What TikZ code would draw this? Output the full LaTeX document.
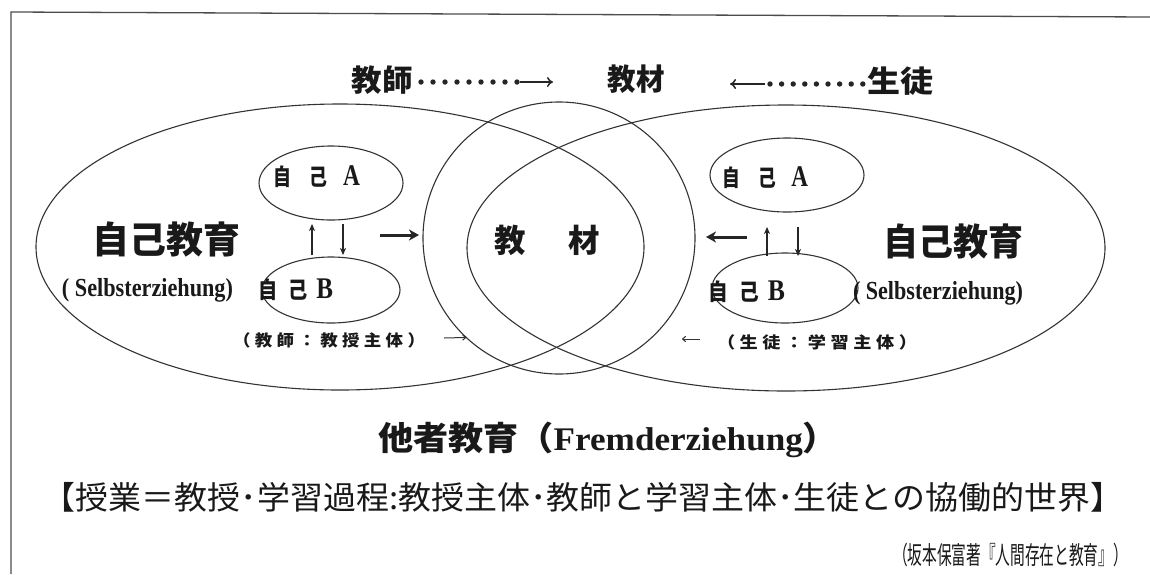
\documentclass[tikz,border=0pt]{standalone}
\usepackage{graphicx}
\usepackage{fontspec}
\setmainfont{Liberation Serif}
\newfontfamily\jp{Noto Sans CJK JP}
\usetikzlibrary{shapes.geometric,arrows.meta}
\newcommand\fitw[2]{\resizebox{#1}{\height}{#2}}
\newcommand\fs[1]{\fontsize{#1}{#1}\selectfont}
\tikzset{
  lbl/.style={inner sep=0pt, outer sep=0pt, anchor=center, text=black!90},
  ring/.style={draw=black!80, line width=1.1pt, inner sep=0pt, outer sep=0pt},
  oval/.style={ring, ellipse},
  frameline/.style={draw=black!70, line width=1.3pt},
  dotfill/.style={fill=black!85},
  toparrow/.style={line width=1.8pt, black!85, -{To[length=6pt,width=10pt,line width=1.5pt]}},
  bigarrow/.style={line width=3pt, black!85, -{Stealth[length=10pt,width=11pt,inset=3pt]}},
  thinarrow/.style={line width=1.1pt, black!85, -{Stealth[length=7pt,width=6pt,inset=2pt]}},
  smallarrow/.style={line width=1pt, black!80, -{To[length=4pt,width=6pt]}},
}
\begin{document}
\begin{tikzpicture}[x=1pt,y=-1pt]
\useasboundingbox (0,0) rectangle (1150,574);
\fill[white] (0,0) rectangle (1150,574);
% frame
\coordinate (f1) at (11,574);
\coordinate (f2) at (11,12);
\coordinate (f3) at (1150,17);
\draw[frameline] (f1) -- (f2) -- (f3);

% top line
\node[lbl, font=\fs{30}] (teacher) at (382,80) {\fitw{61pt}{\jp\bfseries 教師}};
\node[lbl, font=\fs{30}] (mat) at (636,79) {\fitw{57pt}{\jp\bfseries 教材}};
\node[lbl, font=\fs{30}] (student) at (900,81) {\fitw{66pt}{\jp\bfseries 生徒}};
\foreach \i in {0,...,8} \fill[dotfill] (421+\i*12,82) circle[radius=2.7pt];
\coordinate (ta1) at (520,82);
\coordinate (ta2) at (553,82);
\draw[toparrow] (ta1) -- (ta2);
\foreach \i in {0,...,8} \fill[dotfill] (770+\i*11.6,84) circle[radius=2.7pt];
\coordinate (sa1) at (765,84);
\coordinate (sa2) at (730,84);
\draw[toparrow] (sa1) -- (sa2);

% big shapes
\node[oval, minimum width=608pt, minimum height=286pt] (LE) at (340,247) {};
\node[oval, minimum width=638pt, minimum height=286pt] (RE) at (786,248) {};
\node[ring, circle, minimum size=272pt] (C) at (559,238) {};

% small ellipses
\node[oval, minimum width=144pt, minimum height=74pt] (LA) at (331,183) {};
\node[oval, minimum width=138pt, minimum height=66pt] (LB) at (331,290) {};
\node[oval, minimum width=154pt, minimum height=74pt] (RA) at (787,175) {};
\node[oval, minimum width=146pt, minimum height=70pt] (RB) at (785,288) {};

% texts in small ellipses
\node[lbl, font=\fs{23}] (laT) at (316.5,177) {\fitw{87pt}{\jp\bfseries 自\hspace{24pt}己\hspace{20pt}{\rmfamily\bfseries\fs{30}A}}};
\node[lbl, font=\fs{23}] (lbT) at (295.5,290) {\fitw{75pt}{\jp\bfseries 自\hspace{14pt}己\hspace{10pt}{\rmfamily\bfseries\fs{30}B}}};
\node[lbl, font=\fs{23}] (raT) at (765,178) {\fitw{86pt}{\jp\bfseries 自\hspace{24pt}己\hspace{20pt}{\rmfamily\bfseries\fs{30}A}}};
\node[lbl, font=\fs{23}] (rbT) at (746.5,292) {\fitw{77pt}{\jp\bfseries 自\hspace{14pt}己\hspace{10pt}{\rmfamily\bfseries\fs{30}B}}};

% self education
\node[lbl, font=\fs{37}] (lSelf) at (166,240) {\fitw{148pt}{\jp\bfseries 自己教育}};
\node[lbl, font=\fs{37}] (rSelf) at (953,242) {\fitw{140pt}{\jp\bfseries 自己教育}};
\node[lbl, font=\fs{26}] (lSelb) at (147.5,290) {\fitw{171pt}{\bfseries ( Selbsterziehung)}};
\node[lbl, font=\fs{26}] (rSelb) at (938,293) {\fitw{170pt}{\bfseries ( Selbsterziehung)}};

% subject labels
\node[lbl, font=\fs{16}] (tSubj) at (329,340) {\fitw{192pt}{\jp\bfseries （\hspace{4pt}教\hspace{4pt}師\hspace{4pt}：\hspace{4pt}教\hspace{4pt}授\hspace{4pt}主\hspace{4pt}体\hspace{4pt}）}};
\node[lbl, font=\fs{16}] (sSubj) at (817,342) {\fitw{200pt}{\jp\bfseries （\hspace{4pt}生\hspace{4pt}徒\hspace{4pt}：\hspace{4pt}学\hspace{4pt}習\hspace{4pt}主\hspace{4pt}体\hspace{4pt}）}};
\coordinate (tsa) at (444,338);
\draw[smallarrow] (tsa) -- (C.227);
\coordinate (ssa1) at (700,339);
\coordinate (ssa2) at (682,339);
\draw[smallarrow] (ssa1) -- (ssa2);

% centre
\node[lbl, font=\fs{32}] (cMat) at (547,240) {\fitw{105pt}{\jp\bfseries 教\hspace{43pt}材}};

% big arrows
\coordinate (ba1) at (380,235);
\coordinate (ba2) at (419,235);
\draw[bigarrow] (ba1) -- (ba2);
\coordinate (bb1) at (747,237);
\coordinate (bb2) at (706,237);
\draw[bigarrow] (bb1) -- (bb2);

% up/down arrows
\draw[thinarrow] ([xshift=-19pt,yshift=2pt]LB.north) -- ([xshift=-19pt,yshift=-4pt]LA.south);
\draw[thinarrow] ([xshift=12pt,yshift=-4pt]LA.south) -- ([xshift=12pt,yshift=2pt]LB.north);
\coordinate (ru1) at (767,256);
\coordinate (ru2) at (767,227);
\coordinate (rd1) at (798,227);
\coordinate (rd2) at (798,256);
\draw[thinarrow] (ru1) -- (ru2);
\draw[thinarrow] (rd1) -- (rd2);

% bottom
\node[lbl, font=\fs{33}] (other) at (608,440) {\fitw{460pt}{{\jp\bfseries 他者教育（}{\bfseries Fremderziehung}{\jp\bfseries ）}}};
\node[lbl, font=\fs{32}] (lesson) at (583,497) {\fitw{1080pt}{\jp 【授業＝教授･学習過程:教授主体･教師と学習主体･生徒との協働的世界】}};
\node[lbl, font=\fs{25}] (cite) at (1010.5,555) {\fitw{235pt}{\jp （坂本保富著『人間存在と教育』）}};
\end{tikzpicture}
\end{document}
